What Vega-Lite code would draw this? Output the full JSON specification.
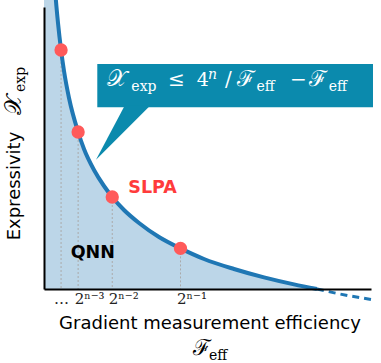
{
  "$schema": "https://vega.github.io/schema/vega-lite/v6.json",
  "width": 327,
  "height": 282,
  "autosize": {"type": "none"},
  "padding": {"left": 44, "top": 7, "right": 10, "bottom": 74},
  "background": "white",
  "config": {"view": {"stroke": null}},
  "data": {"values": [{}]},
  "datasets": {
    "curve": [
      {"F": 0.0, "X": 420},
      {"F": 0.0293, "X": 353},
      {"F": 0.0436, "X": 289},
      {"F": 0.0513, "X": 266},
      {"F": 0.0625, "X": 239},
      {"F": 0.0733, "X": 218},
      {"F": 0.0916, "X": 191},
      {"F": 0.125, "X": 157},
      {"F": 0.1465, "X": 140},
      {"F": 0.1832, "X": 119},
      {"F": 0.2198, "X": 103},
      {"F": 0.25, "X": 92},
      {"F": 0.293, "X": 79},
      {"F": 0.348, "X": 66},
      {"F": 0.4212, "X": 52},
      {"F": 0.5, "X": 40.6},
      {"F": 0.5861, "X": 30},
      {"F": 0.696, "X": 20},
      {"F": 0.8059, "X": 11.6},
      {"F": 0.9158, "X": 4.6},
      {"F": 1.0, "X": 0}
    ],
    "tail": [
      {"F": 1.0, "X": 0},
      {"F": 1.084, "X": -5},
      {"F": 1.1978, "X": -10.5}
    ],
    "points": [
      {"F": 0.0625, "X": 239},
      {"F": 0.125, "X": 157},
      {"F": 0.25, "X": 92},
      {"F": 0.5, "X": 40.6}
    ]
  },
  "layer": [
    {
      "data": {"name": "curve"},
      "mark": {"type": "area", "color": "#bcd6e8", "interpolate": "monotone", "clip": false},
      "encoding": {
        "x": {
          "field": "F", "type": "quantitative",
          "scale": {"domain": [0, 1.1978], "nice": false},
          "axis": {
            "values": [0.0625, 0.125, 0.25, 0.5],
            "labelExpr": "datum.value < 0.1 ? '…' : datum.value < 0.2 ? '2ⁿ⁻³' : datum.value < 0.3 ? '2ⁿ⁻²' : '2ⁿ⁻¹'",
            "ticks": false, "grid": false,
            "domainColor": "black", "domainWidth": 2,
            "labelFont": "DejaVu Serif", "labelFontSize": 15, "labelColor": "#222",
            "labelPadding": 2,
            "labelAlign": {"condition": {"test": "datum.value < 0.1", "value": "center"}, "value": "left"},
            "labelOffset": {"condition": {"test": "datum.value < 0.1", "value": 0}, "value": -4},
            "labelBound": false, "labelOverlap": false, "labelFlush": false,
            "title": "Gradient measurement efficiency",
            "titleFont": "DejaVu Sans", "titleFontSize": 18, "titleFontWeight": "normal", "titleColor": "black",
            "titleX": 165.5, "titleY": 39, "titleBaseline": "alphabetic", "titleAlign": "center",
            "zindex": 1
          }
        },
        "y": {
          "field": "X", "type": "quantitative",
          "scale": {"domain": [0, 282], "nice": false},
          "axis": {
            "ticks": false, "labels": false, "grid": false,
            "domainColor": "black", "domainWidth": 2,
            "title": "Expressivity",
            "titleFont": "DejaVu Sans", "titleFontSize": 18, "titleFontWeight": "normal", "titleColor": "black",
            "titleX": -25, "titleY": 178.5, "titleAngle": 270, "titleBaseline": "alphabetic", "titleAlign": "center",
            "zindex": 1
          }
        }
      }
    },
    {
      "data": {"name": "points"},
      "mark": {"type": "rule", "color": "#aaaaaa", "strokeDash": [2, 2], "strokeWidth": 1},
      "encoding": {
        "x": {"field": "F", "type": "quantitative"},
        "y": {"field": "X", "type": "quantitative"},
        "y2": {"datum": 0}
      }
    },
    {
      "data": {"name": "curve"},
      "mark": {"type": "line", "color": "#1f77b4", "strokeWidth": 4, "interpolate": "monotone", "clip": false},
      "encoding": {
        "x": {"field": "F", "type": "quantitative"},
        "y": {"field": "X", "type": "quantitative"}
      }
    },
    {
      "data": {"name": "tail"},
      "mark": {"type": "line", "color": "#1f77b4", "strokeWidth": 3, "strokeDash": [7, 5], "interpolate": "monotone", "clip": false},
      "encoding": {
        "x": {"field": "F", "type": "quantitative"},
        "y": {"field": "X", "type": "quantitative"}
      }
    },
    {
      "data": {"name": "points"},
      "mark": {"type": "circle", "size": 177, "color": "#ff5a5a", "opacity": 1},
      "encoding": {
        "x": {"field": "F", "type": "quantitative"},
        "y": {"field": "X", "type": "quantitative"}
      }
    },
    {
      "mark": {"type": "text", "text": "SLPA", "font": "DejaVu Sans", "fontWeight": "bold", "fontSize": 17.5, "color": "#ff3b3b", "align": "left", "baseline": "alphabetic"},
      "encoding": {"x": {"datum": 0.3088}, "y": {"datum": 96}}
    },
    {
      "mark": {"type": "text", "text": "QNN", "font": "DejaVu Sans", "fontWeight": "bold", "fontSize": 17.5, "color": "black", "align": "left", "baseline": "alphabetic"},
      "encoding": {"x": {"datum": 0.0978}, "y": {"datum": 31}}
    },
    {
      "mark": {"type": "rect", "color": "#0b8aad", "opacity": 1},
      "encoding": {"x": {"datum": 0.1952}, "x2": {"datum": 1.2051}, "y": {"datum": 225}, "y2": {"datum": 181.7}}
    },
    {
      "mark": {"type": "point", "shape": "M 0.06 -1.03 L 1 -1.03 L -1 0.97 Z", "size": 2916, "filled": true, "color": "#0b8aad", "opacity": 1, "strokeWidth": 0},
      "encoding": {"x": {"datum": 0.2894}, "y": {"datum": 155.5}}
    },
    {
      "mark": {"type": "text", "text": "𝒳", "font": "DejaVu Serif", "fontSize": 23, "color": "white", "align": "left", "baseline": "alphabetic"},
      "encoding": {"x": {"datum": 0.2297}, "y": {"datum": 203}}
    },
    {
      "mark": {"type": "text", "text": "exp", "font": "DejaVu Serif", "fontSize": 14, "color": "white", "align": "left", "baseline": "alphabetic"},
      "encoding": {"x": {"datum": 0.32}, "y": {"datum": 198}}
    },
    {
      "mark": {"type": "text", "text": "≤", "font": "DejaVu Serif", "fontSize": 20, "color": "white", "align": "left", "baseline": "alphabetic"},
      "encoding": {"x": {"datum": 0.4542}, "y": {"datum": 203}}
    },
    {
      "mark": {"type": "text", "text": "4", "font": "DejaVu Serif", "fontSize": 19, "color": "white", "align": "left", "baseline": "alphabetic"},
      "encoding": {"x": {"datum": 0.5593}, "y": {"datum": 203}}
    },
    {
      "mark": {"type": "text", "text": "n", "font": "DejaVu Serif", "fontStyle": "italic", "fontSize": 14, "color": "white", "align": "left", "baseline": "alphabetic"},
      "encoding": {"x": {"datum": 0.6007}, "y": {"datum": 210}}
    },
    {
      "mark": {"type": "text", "text": "/", "font": "DejaVu Serif", "fontSize": 20, "color": "white", "align": "left", "baseline": "alphabetic"},
      "encoding": {"x": {"datum": 0.663}, "y": {"datum": 203}}
    },
    {
      "mark": {"type": "text", "text": "ℱ", "font": "DejaVu Serif", "fontSize": 22, "color": "white", "align": "left", "baseline": "alphabetic"},
      "encoding": {"x": {"datum": 0.7059}, "y": {"datum": 203}}
    },
    {
      "mark": {"type": "text", "text": "eff", "font": "DejaVu Serif", "fontSize": 14, "color": "white", "align": "left", "baseline": "alphabetic"},
      "encoding": {"x": {"datum": 0.778}, "y": {"datum": 198}}
    },
    {
      "mark": {"type": "text", "text": "−", "font": "DejaVu Serif", "fontSize": 20, "color": "white", "align": "left", "baseline": "alphabetic"},
      "encoding": {"x": {"datum": 0.9011}, "y": {"datum": 203}}
    },
    {
      "mark": {"type": "text", "text": "ℱ", "font": "DejaVu Serif", "fontSize": 22, "color": "white", "align": "left", "baseline": "alphabetic"},
      "encoding": {"x": {"datum": 0.9706}, "y": {"datum": 203}}
    },
    {
      "mark": {"type": "text", "text": "eff", "font": "DejaVu Serif", "fontSize": 14, "color": "white", "align": "left", "baseline": "alphabetic"},
      "encoding": {"x": {"datum": 1.043}, "y": {"datum": 198}}
    },
    {
      "mark": {"type": "text", "text": "ℱ", "font": "DejaVu Serif", "fontSize": 22, "color": "black", "align": "left", "baseline": "alphabetic"},
      "encoding": {"x": {"datum": 0.5458}, "y": {"datum": -66}}
    },
    {
      "mark": {"type": "text", "text": "eff", "font": "DejaVu Serif", "fontSize": 14, "color": "black", "align": "left", "baseline": "alphabetic"},
      "encoding": {"x": {"datum": 0.604}, "y": {"datum": -71}}
    },
    {
      "mark": {"type": "text", "text": "𝒳", "font": "DejaVu Serif", "fontSize": 23, "color": "black", "align": "left", "baseline": "alphabetic", "angle": 270},
      "encoding": {"x": {"datum": -0.0842}, "y": {"datum": 174}}
    },
    {
      "mark": {"type": "text", "text": "exp", "font": "DejaVu Serif", "fontSize": 14, "color": "black", "align": "left", "baseline": "alphabetic", "angle": 270},
      "encoding": {"x": {"datum": -0.0714}, "y": {"datum": 197}}
    }
  ]
}
